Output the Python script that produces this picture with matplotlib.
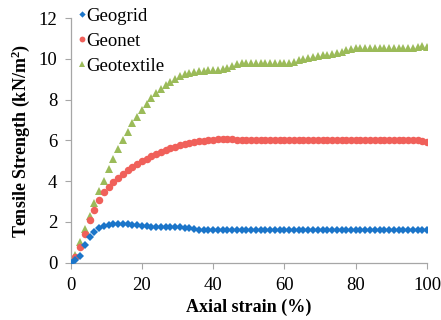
import matplotlib
matplotlib.use("Agg")
import matplotlib.pyplot as plt
from matplotlib.lines import Line2D

strain = [0, 1.33, 2.67, 4, 5.33, 6.67, 8, 9.33, 10.67, 12, 13.33, 14.67, 16, 17.33, 18.67,
          20, 21.33, 22.67, 24, 25.33, 26.67, 28, 29.33, 30.67, 32, 33.33, 34.67, 36, 37.33, 38.67,
          40, 41.33, 42.67, 44, 45.33, 46.67, 48, 49.33, 50.67, 52, 53.33, 54.67, 56, 57.33, 58.67,
          60, 61.33, 62.67, 64, 65.33, 66.67, 68, 69.33, 70.67, 72, 73.33, 74.67, 76, 77.33, 78.67,
          80, 81.33, 82.67, 84, 85.33, 86.67, 88, 89.33, 90.67, 92, 93.33, 94.67, 96, 97.33, 98.67, 100]

geogrid = [0, 0.12, 0.35, 0.88, 1.25, 1.5, 1.68, 1.78, 1.84, 1.89, 1.92, 1.92, 1.9, 1.87, 1.84,
           1.81, 1.79, 1.77, 1.76, 1.76, 1.76, 1.76, 1.76, 1.74, 1.72, 1.68, 1.64, 1.61, 1.61, 1.61,
           1.61, 1.61, 1.61, 1.61, 1.61, 1.61, 1.61, 1.61, 1.61, 1.61, 1.61, 1.61, 1.61, 1.61, 1.61,
           1.61, 1.61, 1.61, 1.61, 1.61, 1.61, 1.61, 1.61, 1.61, 1.61, 1.61, 1.61, 1.61, 1.61, 1.61,
           1.61, 1.61, 1.61, 1.61, 1.61, 1.61, 1.61, 1.61, 1.61, 1.61, 1.61, 1.61, 1.61, 1.61, 1.61, 1.61]

geonet = [0, 0.3, 0.75, 1.4, 2.1, 2.6, 3.08, 3.45, 3.73, 3.97, 4.18, 4.37, 4.55, 4.7, 4.85,
          4.98, 5.1, 5.22, 5.33, 5.43, 5.52, 5.61, 5.69, 5.76, 5.82, 5.87, 5.91, 5.95, 5.98, 6.01,
          6.03, 6.05, 6.05, 6.05, 6.05, 6.04, 6.0, 6.0, 6.0, 6.0, 6.0, 6.0, 6.0, 6.0, 6.0,
          6.0, 6.0, 6.0, 6.0, 6.0, 6.0, 6.0, 6.0, 6.0, 6.0, 6.0, 6.0, 6.0, 6.0, 6.0,
          6.0, 6.0, 6.0, 6.0, 6.0, 6.0, 6.0, 6.0, 6.0, 6.0, 6.0, 6.0, 6.0, 6.0, 5.96, 5.94]

geotextile = [0, 0.37, 1.03, 1.65, 2.3, 2.92, 3.52, 4.03, 4.58, 5.09, 5.58, 6.0, 6.44, 6.84, 7.17,
              7.5, 7.8, 8.07, 8.32, 8.53, 8.73, 8.88, 9.02, 9.15, 9.25, 9.32, 9.37, 9.4, 9.42, 9.44,
              9.46, 9.48, 9.52, 9.58, 9.65, 9.73, 9.78, 9.8, 9.8, 9.8, 9.8, 9.8, 9.8, 9.8, 9.8,
              9.8, 9.8, 9.87, 9.95, 10.02, 10.07, 10.1, 10.14, 10.18, 10.22, 10.25, 10.28, 10.35, 10.42, 10.48,
              10.52, 10.52, 10.52, 10.52, 10.52, 10.52, 10.52, 10.52, 10.52, 10.52, 10.52, 10.52, 10.52, 10.6, 10.62, 10.6]

xticks = [0, 20, 40, 60, 80, 100]
yticks = [0, 2, 4, 6, 8, 10, 12]

plt.rcParams['font.family'] = 'serif'
plt.rcParams['font.serif'] = ['Liberation Serif', 'DejaVu Serif']
plt.rcParams['mathtext.fontset'] = 'custom'
plt.rcParams['mathtext.rm'] = 'Liberation Serif'
plt.rcParams['mathtext.bf'] = 'Liberation Serif:bold'

fig = plt.figure(figsize=(4.41, 3.2), dpi=100)
ax = fig.add_axes([0.1603, 0.179, 0.808, 0.764])

c_blue = '#1B75C9'
c_red = '#F0605A'
c_green = '#9BBB59'

ax.plot(strain, geogrid, linestyle='none', marker='D', markersize=4.2, color=c_blue,
        markeredgewidth=0, label='Geogrid', zorder=3)
ax.plot(strain, geonet, linestyle='none', marker='o', markersize=5.4, color=c_red,
        markeredgewidth=0, label='Geonet', zorder=2)
ax.plot(strain, geotextile, linestyle='none', marker='^', markersize=5.8, color=c_green,
        markeredgewidth=0, label='Geotextile', zorder=1)

ax.set_xlim(0, 100)
ax.set_ylim(0, 12)
ax.set_xticks(xticks)
ax.set_yticks(yticks)
ax.tick_params(axis='both', direction='out', length=4.5, width=0.8, color='#A6A6A6',
               labelsize=13.5)
ax.tick_params(axis='x', pad=6)
ax.tick_params(axis='y', pad=5)

for s in ['top', 'right']:
    ax.spines[s].set_visible(False)
for s in ['left', 'bottom']:
    ax.spines[s].set_color('#A6A6A6')
    ax.spines[s].set_linewidth(0.9)

ax.set_xlabel('Axial strain (%)', fontsize=13, fontweight='bold', labelpad=3)
ax.set_ylabel('Tensile Strength (kN/m$\\mathbf{^2}$)', fontsize=13, fontweight='bold', labelpad=5)

handles = [
    Line2D([], [], linestyle='none', marker='D', markersize=3.2, color=c_blue, markeredgewidth=0),
    Line2D([], [], linestyle='none', marker='o', markersize=4.2, color=c_red, markeredgewidth=0),
    Line2D([], [], linestyle='none', marker='^', markersize=4.5, color=c_green, markeredgewidth=0),
]
ax.legend(handles, ['Geogrid', 'Geonet', 'Geotextile'], loc='upper left',
          bbox_to_anchor=(0.0, 1.075), frameon=False, fontsize=13.5,
          handlelength=0.4, handletextpad=0.05, labelspacing=0.42, borderaxespad=0.0)

fig.savefig('out.png', dpi=100)
